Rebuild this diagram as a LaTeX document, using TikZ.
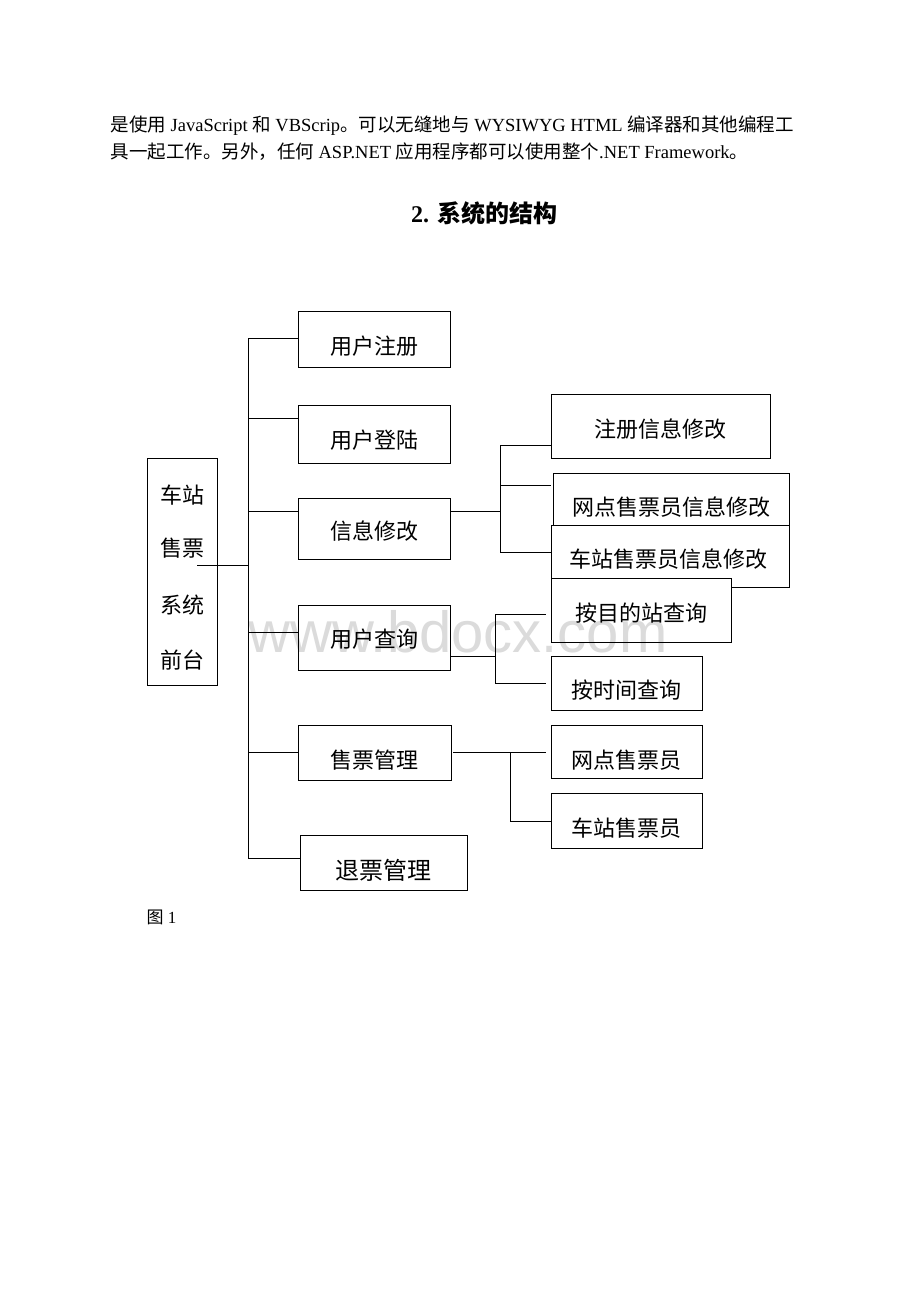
\documentclass[tikz,border=0pt]{standalone}
\usepackage{fontspec}
\setmainfont{Liberation Serif}
\newfontfamily\cjk{Noto Sans CJK SC}
\newfontfamily\wmfont{Liberation Sans}
\usetikzlibrary{calc}
\newcommand{\zh}[1]{{\cjk #1}}
\begin{document}
\begin{tikzpicture}[x=1pt,y=-1pt,line width=1pt,
  box/.style={draw=black,fill=white,rectangle,inner sep=0pt,line width=1pt},
  lbl/.style={font=\cjk\fontsize{22}{22}\selectfont,inner sep=0pt},
  lblbig/.style={font=\cjk\fontsize{24}{24}\selectfont,inner sep=0pt},
  para/.style={font=\fontsize{18.5}{18.5}\selectfont,inner sep=0pt,anchor=base west},
  conn/.style={draw=black,line width=1pt}]
\useasboundingbox (0,0) rectangle (920,1302);

% text above
\node[para] (p1) at (110,131) {\zh{是使用} JavaScript \zh{和} VBScrip\zh{。可以无缝地与} WYSIWYG HTML \zh{编译器和其他编程工}};
\node[para] (p2) at (110,158) {\zh{具一起工作。另外，任何} ASP.NET \zh{应用程序都可以使用整个}.NET Framework\zh{。}};
\node[inner sep=0pt,anchor=base,font=\bfseries\fontsize{24}{24}\selectfont] (title) at (484,222) {2. \zh{\bfseries 系统的结构}};

% main box
\node[box,minimum width=70,minimum height=227] (main) at (182,571.5) {};
\node[lbl] (m1) at (182,495) {车站};
\node[lbl] (m2) at (182,548) {售票};
\node[lbl] (m3) at (182,605) {系统};
\node[lbl] (m4) at (182,660) {前台};

% level 1 boxes
\node[box,minimum width=152,minimum height=56] (reg) at (374,339) {};
\node[lbl] (reg-t) at (374,346) {用户注册};
\node[box,minimum width=152,minimum height=58] (login) at (374,434) {};
\node[lbl] (login-t) at (374,440) {用户登陆};
\node[box,minimum width=152,minimum height=61] (info) at (374,528.5) {};
\node[lbl] (info-t) at (374,531) {信息修改};
\node[box,minimum width=152,minimum height=65] (query) at (374,637.5) {};
\node[lbl] (query-t) at (374,639) {用户查询};
\node[box,minimum width=153,minimum height=55] (sell) at (374.5,752.5) {};
\node[lbl] (sell-t) at (374.5,760) {售票管理};
\node[box,minimum width=167,minimum height=55] (refund) at (383.5,862.5) {};
\node[lblbig] (refund-t) at (383.5,870) {退票管理};

% level 2 boxes (drawing order matters for overlaps)
\node[box,minimum width=219,minimum height=64] (regmod) at (660.5,426) {};
\node[lbl] (regmod-t) at (660.5,429) {注册信息修改};
\node[box,minimum width=236,minimum height=67] (netmod) at (671,506.5) {};
\node[lbl] (netmod-t) at (671,507) {网点售票员信息修改};
\node[box,minimum width=238,minimum height=62] (stamod) at (670,556) {};
\node[lbl] (stamod-t) at (668,559) {车站售票员信息修改};
\node[box,minimum width=180,minimum height=64] (bydest) at (641,610) {};
\node[lbl] (bydest-t) at (641,613) {按目的站查询};
\node[box,minimum width=151,minimum height=54] (bytime) at (626.5,683) {};
\node[lbl] (bytime-t) at (626.5,690) {按时间查询};
\node[box,minimum width=151,minimum height=53] (netsel) at (626.5,751.5) {};
\node[lbl] (netsel-t) at (626.5,760) {网点售票员};
\node[box,minimum width=151,minimum height=55] (stasel) at (626.5,820.5) {};
\node[lbl] (stasel-t) at (626.5,828) {车站售票员};

% left trunk
\coordinate (mstart) at (197,565);
\coordinate (ttop) at (248,338);
\coordinate (tbot) at (248,858);
\coordinate (tmain) at (248,565);
\draw[conn] (mstart) -- (tmain);
\draw[conn] (ttop) -- (tbot);
\coordinate (t1) at (248,338);
\coordinate (t2) at (248,418);
\coordinate (t3) at (248,511);
\coordinate (t4) at (248,632);
\coordinate (t5) at (248,752);
\coordinate (t6) at (248,858);
\draw[conn] (t1) -- (t1 -| reg.west);
\draw[conn] (t2) -- (t2 -| login.west);
\draw[conn] (t3) -- (t3 -| info.west);
\draw[conn] (t4) -- (t4 -| query.west);
\draw[conn] (t5) -- (t5 -| sell.west);
\draw[conn] (t6) -- (t6 -| refund.west);

% info branches
\coordinate (ia) at (500,511);
\coordinate (i1) at (500,445);
\coordinate (i2) at (500,485);
\coordinate (i3) at (500,552);
\draw[conn] (ia -| info.east) -- (ia);
\draw[conn] (i1) -- (i3);
\draw[conn] (i1) -- (i1 -| regmod.west);
\draw[conn] (i2) -- (i2 -| stamod.west);
\draw[conn] (i3) -- (i3 -| stamod.west);

% query branches
\coordinate (qa) at (495,656);
\coordinate (q1) at (495,614);
\coordinate (q2) at (495,683);
\coordinate (qe1) at (546,614);
\coordinate (qe2) at (546,683);
\draw[conn] (qa -| query.east) -- (qa);
\draw[conn] (q1) -- (q2);
\draw[conn] (q1) -- (qe1);
\draw[conn] (q2) -- (qe2);

% sell branches
\coordinate (sa) at (453,752);
\coordinate (se) at (546,752);
\coordinate (s1) at (510,752);
\coordinate (s2) at (510,821);
\draw[conn] (sa) -- (se);
\draw[conn] (s1) -- (s2);
\draw[conn] (s2) -- (s2 -| stasel.west);

% figure label
\node[inner sep=0pt,anchor=base west,font=\fontsize{17}{17}\selectfont] (fig) at (146,923) {\zh{图} 1};

% watermark
\begin{scope}[blend mode=multiply]
\node[inner sep=0pt,anchor=base,font=\wmfont\fontsize{58}{58}\selectfont,text=black!14] (wmk) at (458,652) {www.bdocx.com};
\end{scope}
\end{tikzpicture}
\end{document}
